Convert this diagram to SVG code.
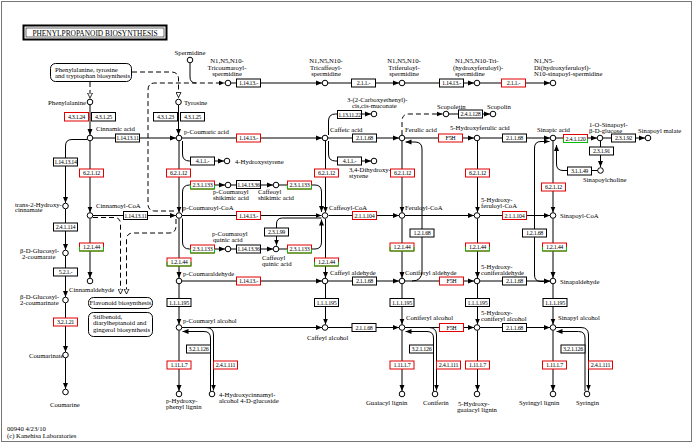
<svg xmlns="http://www.w3.org/2000/svg" width="693" height="444" viewBox="0 0 693 444">
<style>
.ln{fill:none;stroke:#000;stroke-width:1}
.dl{fill:none;stroke:#000;stroke-width:1;stroke-dasharray:5,3}
.bx{fill:#fff;stroke:#000;stroke-width:1}
.rb{fill:#fff;stroke:#e00000;stroke-width:1}
.gb{fill:none;stroke:#00c000;stroke-width:1}
.mp{fill:#fff;stroke:#000;stroke-width:1}
circle{fill:#fff;stroke:#000;stroke-width:1}
text{font-family:"Liberation Serif","Times New Roman",serif;font-size:6.7px;fill:#000}
.bt{font-size:6px;letter-spacing:-0.3px;text-anchor:middle}
.m{text-anchor:middle}
.e{text-anchor:end}
</style>
<defs>
<marker id="a" viewBox="0 0 6 6" refX="6" refY="3" markerWidth="6" markerHeight="6" markerUnits="userSpaceOnUse" orient="auto-start-reverse"><path d="M0,0.5 L6,3 L0,5.5z" fill="#000"/></marker>
<marker id="o" viewBox="0 0 6 6" refX="6" refY="3" markerWidth="6" markerHeight="6" markerUnits="userSpaceOnUse" orient="auto"><path d="M0.5,0.5 L5.5,3 L0.5,5.5z" fill="#fff" stroke="#000" stroke-width="0.8"/></marker>
</defs>
<rect x="1.5" y="1.5" width="690" height="440" fill="#fff" stroke="#777" stroke-width="1"/>
<g id="title"><rect x="23.5" y="25.5" width="143" height="14" fill="#fff" stroke="#000" stroke-width="2"/><rect x="26" y="28" width="138" height="9" fill="none" stroke="#000" stroke-width="0.6"/><text x="95" y="35.5" class="m" style="font-size:7.4px">PHENYLPROPANOID  BIOSYNTHESIS</text></g>

<g id="connectors">
<path class="dl" d="M132 72 H171 Q178.5 72 178.5 79 V98" marker-end="url(#o)"/>
<path class="dl" d="M90 82 V98.5" marker-end="url(#o)"/>
<path class="dl" d="M174 211 H155 Q148 211 148 204 V90 Q148 83 155 83 H224.5" marker-end="url(#a)"/>
<path class="ln" d="M190 63 V77 Q190 83 196 83"/>
<path class="dl" d="M93 217.5 H114 Q120.5 217.5 120.5 224 V294.5" marker-end="url(#o)"/>
<path class="dl" d="M176 219 V226 Q176 233 169 233 H133 Q126.5 233 126.5 240 V294.5" marker-end="url(#o)"/>
<path class="dl" d="M402 135 V121 Q402 114 409 114 H442.5" marker-end="url(#a)"/>
<path class="ln" d="M231 83 H322" marker-end="url(#a)"/>
<path class="ln" d="M328 83 H399" marker-end="url(#a)"/>
<path class="ln" d="M405 83 H474" marker-end="url(#a)"/>
<path class="ln" d="M480 83 H550" marker-end="url(#a)"/>
<path class="ln" d="M90 105 V135" marker-end="url(#a)"/>
<path class="ln" d="M178.5 105 V135" marker-end="url(#a)"/>
<path class="ln" d="M93 138 H176" marker-end="url(#a)"/>
<path class="ln" d="M182 138 H322" marker-end="url(#a)"/>
<path class="ln" d="M328 138 H399" marker-end="url(#a)"/>
<path class="ln" d="M405 138 H474" marker-end="url(#a)"/>
<path class="ln" d="M480 138 H550" marker-end="url(#a)"/>
<path class="ln" d="M556 138 H597" marker-end="url(#a)"/>
<path class="ln" d="M603 138 H645" marker-end="url(#a)"/>
<path class="ln" d="M328.5 135 V121 Q328.5 114 335.5 114 H371" marker-end="url(#a)"/>
<path class="ln" d="M449 114 H490" marker-end="url(#a)"/>
<path class="ln" d="M328.5 141 V154 Q328.5 161 335.5 161 H371" marker-end="url(#a)"/>
<path class="ln" d="M182.5 141 V154 Q182.5 161 189.5 161 H224" marker-end="url(#a)"/>
<path class="ln" d="M600.5 141 V167" marker-end="url(#a)"/>
<path class="ln" d="M598 170.5 H563 Q556.5 170.5 556.5 164 V145" marker-end="url(#a)"/>
<path class="ln" d="M87 139.5 H72 Q65.5 139.5 65.5 146 V203" marker-end="url(#a)"/>
<path class="ln" d="M65.5 209 V250" marker-end="url(#a)"/>
<path class="ln" d="M65.5 256 V297" marker-end="url(#a)"/>
<path class="ln" d="M65.5 303 V352" marker-end="url(#a)"/>
<path class="ln" d="M65.5 358 V389" marker-end="url(#a)"/>
<path class="ln" d="M90 141 V212.5" marker-end="url(#a)"/>
<path class="ln" d="M90 218.5 V278" marker-end="url(#a)"/>
<path class="ln" d="M93 215.5 H176" marker-end="url(#a)"/>
<path class="ln" d="M179 141 V212.5" marker-end="url(#a)"/>
<path class="ln" d="M179 218.5 V278" marker-end="url(#a)"/>
<path class="ln" d="M179 284 V324.5" marker-end="url(#a)"/>
<path class="ln" d="M179 330.5 V391" marker-end="url(#a)"/>
<path class="ln" d="M182.5 212.5 V192 Q182.5 185 189.5 185 H225" marker-end="url(#a)"/>
<path class="ln" d="M231 185 H273" marker-end="url(#a)"/>
<path class="ln" d="M279 185 H315 Q321.5 185 321.5 192 V212" marker-end="url(#a)"/>
<path class="ln" d="M182.5 218.5 V242 Q182.5 249 189.5 249 H225" marker-end="url(#a)"/>
<path class="ln" d="M231 249 H273" marker-end="url(#a)"/>
<path class="ln" d="M279 249 H315 Q321.5 249 321.5 242 V219.5" marker-end="url(#a)"/>
<path class="ln" d="M321.5 218 H282.5 Q276.5 218 276.5 224 V245.5" marker-end="url(#a)"/>
<path class="ln" d="M182 215.5 H321.5" marker-end="url(#a)"/>
<path class="ln" d="M325.5 141 V212.5" marker-end="url(#a)"/>
<path class="ln" d="M325.5 219 V278" marker-end="url(#a)"/>
<path class="ln" d="M325.5 284 V324.5" marker-end="url(#a)"/>
<path class="ln" d="M328.5 215.5 H399" marker-end="url(#a)"/>
<path class="ln" d="M405 215.5 H474" marker-end="url(#a)"/>
<path class="ln" d="M480 215.5 H550" marker-end="url(#a)"/>
<path class="ln" d="M402 141 V212.5" marker-end="url(#a)"/>
<path class="ln" d="M402 218.5 V278" marker-end="url(#a)"/>
<path class="ln" d="M402 284 V324.5" marker-end="url(#a)"/>
<path class="ln" d="M402 330.5 V391" marker-end="url(#a)"/>
<path class="ln" d="M477.5 141 V212.5" marker-end="url(#a)"/>
<path class="ln" d="M477.5 218.5 V278" marker-end="url(#a)"/>
<path class="ln" d="M477.5 284 V324.5" marker-end="url(#a)"/>
<path class="ln" d="M477.5 330.5 V391" marker-end="url(#a)"/>
<path class="ln" d="M553 141 V212.5" marker-end="url(#a)"/>
<path class="ln" d="M553 218.5 V278" marker-end="url(#a)"/>
<path class="ln" d="M553 284 V324.5" marker-end="url(#a)"/>
<path class="ln" d="M553 330.5 V391" marker-end="url(#a)"/>
<path class="ln" d="M412 281 Q422 281 422 271 V149 Q422 142 415 142 H405.5" marker-end="url(#a)"/>
<path class="ln" d="M549.5 141.5 H541 Q534.5 141.5 534.5 148 V275 Q534.5 281.5 541 281.5 H549.5" marker-start="url(#a)" marker-end="url(#a)"/>
<path class="ln" d="M182 281 H322" marker-end="url(#a)"/>
<path class="ln" d="M328 281 H399" marker-end="url(#a)"/>
<path class="ln" d="M405 281 H474" marker-end="url(#a)"/>
<path class="ln" d="M480 281 H550" marker-end="url(#a)"/>
<path class="ln" d="M182 327.5 H322" marker-end="url(#a)"/>
<path class="ln" d="M328 327.5 H399" marker-end="url(#a)"/>
<path class="ln" d="M405 327.5 H474" marker-end="url(#a)"/>
<path class="ln" d="M480 327.5 H550" marker-end="url(#a)"/>
<path class="ln" d="M206 327.5 Q213.5 327.5 213.5 335 V390.5" marker-end="url(#a)"/>
<path class="ln" d="M210.5 391 V338 Q210.5 331.5 204 331.5 H182.5" marker-end="url(#a)"/>
<path class="ln" d="M429 327.5 Q436.5 327.5 436.5 335 V390.5" marker-end="url(#a)"/>
<path class="ln" d="M433.5 391 V338 Q433.5 331.5 427 331.5 H405.5" marker-end="url(#a)"/>
<path class="ln" d="M556 327.5 H581 Q588.5 327.5 588.5 335 V390.5" marker-end="url(#a)"/>
<path class="ln" d="M585 391 V338 Q585 331.5 578.5 331.5 H556.5" marker-end="url(#a)"/>
</g>

<g id="maps">
<g id="map-phe"><rect class="mp" x="50.5" y="63.5" width="81" height="18" rx="5"/><text x="55" y="71.5">Phenylalanine, tyrosine</text><text x="55" y="78">and tryptophan biosynthesis</text></g>
<g id="map-flav"><rect class="mp" x="88.5" y="297.5" width="64" height="11" rx="5"/><text x="120.5" y="305.3" class="m">Flavonoid biosynthesis</text></g>
<g id="map-stil"><rect class="mp" x="88.5" y="312.5" width="64" height="24" rx="5"/><text x="93" y="318.5">Stilbenoid,</text><text x="93" y="325">diarylheptanoid and</text><text x="93" y="331.5">gingerol biosynthesis</text></g>
</g>

<g id="enzymes">
<g id="e1"><rect class="bx" x="236.5" y="79" width="24" height="8"/><text class="bt" x="248.5" y="85.2">1.14.13.-</text></g>
<g id="e2"><rect class="bx" x="351.5" y="79" width="24" height="8"/><text class="bt" x="363.5" y="85.2">2.1.1.-</text></g>
<g id="e3"><rect class="bx" x="439.5" y="79" width="24" height="8"/><text class="bt" x="451.5" y="85.2">1.14.13.-</text></g>
<g id="e4"><rect class="rb" x="501.5" y="79" width="24" height="8"/><text class="bt" x="513.5" y="85.2">2.1.1.-</text></g>
<g id="e5"><rect class="rb" x="64.5" y="112.5" width="24" height="8.5"/><text class="bt" x="76.5" y="119">4.3.1.24</text></g>
<g id="e6"><rect class="bx" x="91.5" y="112.5" width="24" height="8.5"/><text class="bt" x="103.5" y="119">4.3.1.25</text></g>
<g id="e7"><rect class="bx" x="153.5" y="112.5" width="24" height="8.5"/><text class="bt" x="165.5" y="119">4.3.1.23</text></g>
<g id="e8"><rect class="bx" x="180.5" y="112.5" width="24" height="8.5"/><text class="bt" x="192.5" y="119">4.3.1.25</text></g>
<g id="e9"><rect class="bx" x="337.5" y="110.5" width="24" height="8"/><text class="bt" x="349.5" y="116.7">1.13.11.22</text></g>
<g id="e10"><rect class="bx" x="458.5" y="110" width="24" height="8"/><text class="bt" x="470.5" y="116.2">2.4.1.128</text></g>
<g id="e11"><rect class="bx" x="115.5" y="134" width="24" height="8"/><text class="bt" x="127.5" y="140.2">1.14.13.11</text></g>
<g id="e12"><rect class="rb" x="236.5" y="134" width="24" height="8"/><text class="bt" x="248.5" y="140.2">1.14.13.-</text></g>
<g id="e13"><rect class="bx" x="352.5" y="134" width="24" height="8"/><text class="bt" x="364.5" y="140.2">2.1.1.68</text></g>
<g id="e14"><rect class="rb" x="438.5" y="134" width="24" height="8"/><text class="bt" x="450.5" y="140.2">F5H</text></g>
<g id="e15"><rect class="bx" x="502.5" y="134" width="24" height="8"/><text class="bt" x="514.5" y="140.2">2.1.1.68</text></g>
<g id="e16"><rect class="rb" x="563.5" y="134.5" width="24" height="8"/><path class="gb" d="M563.5 138.5 V142.5 H587.5 V138.5"/><text class="bt" x="575.5" y="140.7">2.4.1.120</text></g>
<g id="e17"><rect class="bx" x="611.5" y="134" width="24" height="8"/><text class="bt" x="623.5" y="140.2">2.3.1.92</text></g>
<g id="e18"><rect class="bx" x="589.5" y="147" width="24" height="8"/><text class="bt" x="601.5" y="153.2">2.3.1.91</text></g>
<g id="e19"><rect class="bx" x="567.5" y="167" width="24" height="8"/><text class="bt" x="579.5" y="173.2">3.1.1.49</text></g>
<g id="e20"><rect class="bx" x="53.5" y="158" width="24" height="8"/><text class="bt" x="65.5" y="164.2">1.14.13.14</text></g>
<g id="e21"><rect class="bx" x="53.5" y="223" width="24" height="8"/><text class="bt" x="65.5" y="229.2">2.4.1.114</text></g>
<g id="e22"><rect class="bx" x="53.5" y="268" width="24" height="8"/><text class="bt" x="65.5" y="274.2">5.2.1.-</text></g>
<g id="e23"><rect class="rb" x="53.5" y="318" width="24" height="8"/><text class="bt" x="65.5" y="324.2">3.2.1.21</text></g>
<g id="e24"><rect class="bx" x="190.5" y="157" width="24" height="8"/><text class="bt" x="202.5" y="163.2">4.1.1.-</text></g>
<g id="e25"><rect class="bx" x="337.5" y="157" width="24" height="8"/><text class="bt" x="349.5" y="163.2">4.1.1.-</text></g>
<g id="e26"><rect class="rb" x="79.5" y="169" width="24" height="8"/><text class="bt" x="91.5" y="175.2">6.2.1.12</text></g>
<g id="e27"><rect class="rb" x="166.5" y="169" width="24" height="8"/><text class="bt" x="178.5" y="175.2">6.2.1.12</text></g>
<g id="e28"><rect class="rb" x="314.5" y="169" width="24" height="8"/><text class="bt" x="326.5" y="175.2">6.2.1.12</text></g>
<g id="e29"><rect class="rb" x="390.5" y="169" width="24" height="8"/><text class="bt" x="402.5" y="175.2">6.2.1.12</text></g>
<g id="e30"><rect class="rb" x="465.5" y="169" width="24" height="8"/><text class="bt" x="477.5" y="175.2">6.2.1.12</text></g>
<g id="e31"><rect class="rb" x="541.5" y="183" width="24" height="8"/><text class="bt" x="553.5" y="189.2">6.2.1.12</text></g>
<g id="e32"><rect class="rb" x="190.5" y="181" width="24" height="8"/><path class="gb" d="M190.5 185 V189 H214.5 V185"/><text class="bt" x="202.5" y="187.2">2.3.1.133</text></g>
<g id="e33"><rect class="rb" x="287.5" y="181" width="24" height="8"/><path class="gb" d="M287.5 185 V189 H311.5 V185"/><text class="bt" x="299.5" y="187.2">2.3.1.133</text></g>
<g id="e34"><rect class="rb" x="190.5" y="245" width="24" height="8"/><path class="gb" d="M190.5 249 V253 H214.5 V249"/><text class="bt" x="202.5" y="251.2">2.3.1.133</text></g>
<g id="e35"><rect class="rb" x="287.5" y="245" width="24" height="8"/><path class="gb" d="M287.5 249 V253 H311.5 V249"/><text class="bt" x="299.5" y="251.2">2.3.1.133</text></g>
<g id="e36"><rect class="bx" x="236.5" y="180.5" width="24" height="8"/><text class="bt" x="248.5" y="186.7">1.14.13.36</text></g>
<g id="e37"><rect class="bx" x="236.5" y="245" width="24" height="8"/><text class="bt" x="248.5" y="251.2">1.14.13.36</text></g>
<g id="e38"><rect class="bx" x="264.5" y="228" width="24" height="8"/><text class="bt" x="276.5" y="234.2">2.3.1.99</text></g>
<g id="e39"><rect class="bx" x="123.5" y="211.5" width="24" height="8"/><text class="bt" x="135.5" y="217.7">1.14.13.11</text></g>
<g id="e40"><rect class="rb" x="236.5" y="211.5" width="24" height="8"/><text class="bt" x="248.5" y="217.7">1.14.13.-</text></g>
<g id="e41"><rect class="rb" x="352.5" y="211.5" width="24" height="8"/><text class="bt" x="364.5" y="217.7">2.1.1.104</text></g>
<g id="e42"><rect class="rb" x="502.5" y="211.5" width="24" height="8"/><text class="bt" x="514.5" y="217.7">2.1.1.104</text></g>
<g id="e43"><rect class="bx" x="410" y="229" width="24" height="8"/><text class="bt" x="422" y="235.2">1.2.1.68</text></g>
<g id="e44"><rect class="bx" x="522.5" y="229" width="24" height="8"/><text class="bt" x="534.5" y="235.2">1.2.1.68</text></g>
<g id="e45"><rect class="rb" x="79.5" y="243" width="24" height="8"/><path class="gb" d="M79.5 247 V251 H103.5 V247"/><text class="bt" x="91.5" y="249.2">1.2.1.44</text></g>
<g id="e46"><rect class="rb" x="167" y="258" width="24" height="8"/><path class="gb" d="M167 262 V266 H191 V262"/><text class="bt" x="179" y="264.2">1.2.1.44</text></g>
<g id="e47"><rect class="rb" x="314.5" y="258" width="24" height="8"/><path class="gb" d="M314.5 262 V266 H338.5 V262"/><text class="bt" x="326.5" y="264.2">1.2.1.44</text></g>
<g id="e48"><rect class="rb" x="390" y="243" width="24" height="8"/><path class="gb" d="M390 247 V251 H414 V247"/><text class="bt" x="402" y="249.2">1.2.1.44</text></g>
<g id="e49"><rect class="rb" x="465.5" y="243" width="24" height="8"/><path class="gb" d="M465.5 247 V251 H489.5 V247"/><text class="bt" x="477.5" y="249.2">1.2.1.44</text></g>
<g id="e50"><rect class="rb" x="542.5" y="243" width="24" height="8"/><path class="gb" d="M542.5 247 V251 H566.5 V247"/><text class="bt" x="554.5" y="249.2">1.2.1.44</text></g>
<g id="e51"><rect class="rb" x="236.5" y="277" width="24" height="8"/><text class="bt" x="248.5" y="283.2">1.14.13.-</text></g>
<g id="e52"><rect class="bx" x="352.5" y="277" width="24" height="8"/><text class="bt" x="364.5" y="283.2">2.1.1.68</text></g>
<g id="e53"><rect class="rb" x="439.5" y="277" width="24" height="8"/><text class="bt" x="451.5" y="283.2">F5H</text></g>
<g id="e54"><rect class="bx" x="502.5" y="277" width="24" height="8"/><text class="bt" x="514.5" y="283.2">2.1.1.68</text></g>
<g id="e55"><rect class="bx" x="167" y="298.5" width="24" height="8"/><text class="bt" x="179" y="304.7">1.1.1.195</text></g>
<g id="e56"><rect class="bx" x="314.5" y="298.5" width="24" height="8"/><text class="bt" x="326.5" y="304.7">1.1.1.195</text></g>
<g id="e57"><rect class="bx" x="390" y="298.5" width="24" height="8"/><text class="bt" x="402" y="304.7">1.1.1.195</text></g>
<g id="e58"><rect class="bx" x="465.5" y="298.5" width="24" height="8"/><text class="bt" x="477.5" y="304.7">1.1.1.195</text></g>
<g id="e59"><rect class="bx" x="543" y="298.5" width="24" height="8"/><text class="bt" x="555" y="304.7">1.1.1.195</text></g>
<g id="e60"><rect class="bx" x="352" y="323.5" width="24" height="8"/><text class="bt" x="364" y="329.7">2.1.1.68</text></g>
<g id="e61"><rect class="rb" x="439.5" y="323.5" width="24" height="8"/><text class="bt" x="451.5" y="329.7">F5H</text></g>
<g id="e62"><rect class="bx" x="502.5" y="323.5" width="24" height="8"/><text class="bt" x="514.5" y="329.7">2.1.1.68</text></g>
<g id="e63"><rect class="bx" x="186.5" y="345" width="24" height="8"/><text class="bt" x="198.5" y="351.2">3.2.1.126</text></g>
<g id="e64"><rect class="bx" x="409.5" y="345" width="24" height="8"/><text class="bt" x="421.5" y="351.2">3.2.1.126</text></g>
<g id="e65"><rect class="bx" x="561" y="345" width="24" height="8"/><text class="bt" x="573" y="351.2">3.2.1.126</text></g>
<g id="e66"><rect class="rb" x="213.5" y="361" width="24" height="8"/><text class="bt" x="225.5" y="367.2">2.4.1.111</text></g>
<g id="e67"><rect class="rb" x="436.5" y="361" width="24" height="8"/><text class="bt" x="448.5" y="367.2">2.4.1.111</text></g>
<g id="e68"><rect class="rb" x="588.5" y="361" width="24" height="8"/><text class="bt" x="600.5" y="367.2">2.4.1.111</text></g>
<g id="e69"><rect class="rb" x="167" y="361" width="24" height="8"/><text class="bt" x="179" y="367.2">1.11.1.7</text></g>
<g id="e70"><rect class="rb" x="390" y="361" width="24" height="8"/><text class="bt" x="402" y="367.2">1.11.1.7</text></g>
<g id="e71"><rect class="rb" x="465.5" y="361" width="24" height="8"/><text class="bt" x="477.5" y="367.2">1.11.1.7</text></g>
<g id="e72"><rect class="rb" x="542.5" y="361" width="24" height="8"/><text class="bt" x="554.5" y="367.2">1.11.1.7</text></g>
</g>

<g id="compounds">
<g id="c-spermidine"><circle cx="190" cy="60" r="2.8"/><text x="190" y="54.5" class="m">Spermidine</text></g>
<g id="c-tricoumaroyl"><circle cx="228" cy="83" r="2.8"/><text x="227" y="63.3" class="m">N1,N5,N10-</text><text x="227" y="69.5" class="m">Tricoumaroyl-</text><text x="227" y="75.7" class="m">spermidine</text></g>
<g id="c-tricaffeoyl"><circle cx="325" cy="83" r="2.8"/><text x="326" y="63.3" class="m">N1,N5,N10-</text><text x="326" y="69.5" class="m">Tricaffeoyl-</text><text x="326" y="75.7" class="m">spermidine</text></g>
<g id="c-triferuloyl"><circle cx="402" cy="83" r="2.8"/><text x="404" y="63.3" class="m">N1,N5,N10-</text><text x="404" y="69.5" class="m">Triferuloyl-</text><text x="404" y="75.7" class="m">spermidine</text></g>
<g id="c-trihydroxyferuloyl"><circle cx="477" cy="83" r="2.8"/><text x="455" y="63.3">N1,N5,N10-Tri-</text><text x="453" y="69.5">(hydroxyferuloyl)-</text><text x="455" y="75.7">spermidine</text></g>
<g id="c-disinapoyl"><circle cx="553" cy="83" r="2.8"/><text x="534" y="63.3">N1,N5-</text><text x="534" y="69.5">Di(hydroxyferuloyl)-</text><text x="534" y="75.7">N10-sinapoyl-spermidine</text></g>
<g id="c-phenylalanine"><circle cx="90" cy="102" r="2.8"/><text x="86" y="105" class="e">Phenylalanine</text></g>
<g id="c-tyrosine"><circle cx="178.5" cy="102" r="2.8"/><text x="184" y="105">Tyrosine</text></g>
<g id="c-muconate"><circle cx="374" cy="114" r="2.8"/><text x="347" y="101.5">3-(2-Carboxyethenyl)-</text><text x="352" y="107.5">cis,cis-muconate</text></g>
<g id="c-scopoletin"><circle cx="446" cy="114" r="2.8"/><text x="437" y="108.5">Scopoletin</text></g>
<g id="c-scopolin"><circle cx="493" cy="114" r="2.8"/><text x="487" y="108.5">Scopolin</text></g>
<g id="c-cinnamic"><circle cx="90" cy="138" r="2.8"/><text x="96" y="130.5">Cinnamic acid</text></g>
<g id="c-pcoumaric"><circle cx="179" cy="138" r="2.8"/><text x="184" y="134">p-Coumaric acid</text></g>
<g id="c-caffeic"><circle cx="325" cy="138" r="2.8"/><text x="330" y="131.5">Caffeic acid</text></g>
<g id="c-ferulic"><circle cx="402" cy="138" r="2.8"/><text x="405" y="131.5">Ferulic acid</text></g>
<g id="c-hydroxyferulic"><circle cx="477" cy="138" r="2.8"/><text x="450" y="129.5">5-Hydroxyferulic acid</text></g>
<g id="c-sinapic"><circle cx="553" cy="138" r="2.8"/><text x="537" y="131.5">Sinapic acid</text></g>
<g id="c-sinapoylglucose"><circle cx="600" cy="138" r="2.8"/><text x="589" y="126.5">1-O-Sinapoyl-</text><text x="589" y="132.5">β-D-glucose</text></g>
<g id="c-sinapoylmalate"><circle cx="648" cy="138" r="2.8"/><text x="638" y="132.5">Sinapoyl malate</text></g>
<g id="c-hydroxystyrene"><circle cx="227" cy="161" r="2.8"/><text x="235" y="163.5">4-Hydroxystyrene</text></g>
<g id="c-dihydroxystyrene"><circle cx="374" cy="161" r="2.8"/><text x="349" y="171.5">3,4-Dihydroxy-</text><text x="349" y="178">styrene</text></g>
<g id="c-sinapoylcholine"><circle cx="600.5" cy="170.5" r="2.8"/><text x="583" y="181.5">Sinapoylcholine</text></g>
<g id="c-pcoumaroylshikimic"><circle cx="228" cy="185" r="2.8"/><text x="213" y="194">p-Coumaroyl</text><text x="213" y="200">shikimic acid</text></g>
<g id="c-caffeoylshikimic"><circle cx="276" cy="185" r="2.8"/><text x="258" y="194">Caffeoyl</text><text x="258" y="200">shikimic acid</text></g>
<g id="c-hydroxycinnamate"><circle cx="65.5" cy="206" r="2.8"/><text x="15" y="206.5">trans-2-Hydroxy-</text><text x="15" y="212">cinnamate</text></g>
<g id="c-cinnamoylcoa"><circle cx="90" cy="215.5" r="2.8"/><text x="96" y="207.5">Cinnamoyl-CoA</text></g>
<g id="c-pcoumaroylcoa"><circle cx="179" cy="215.5" r="2.8"/><text x="183" y="209.5">p-Coumaroyl-CoA</text></g>
<g id="c-caffeoylcoa"><circle cx="325" cy="215.5" r="2.8"/><text x="329" y="209.5">Caffeoyl-CoA</text></g>
<g id="c-feruloylcoa"><circle cx="402" cy="215.5" r="2.8"/><text x="405" y="209.5">Feruloyl-CoA</text></g>
<g id="c-hydroxyferuloylcoa"><circle cx="477" cy="215.5" r="2.8"/><text x="481" y="201.5">5-Hydroxy-</text><text x="481" y="207.5">feruloyl-CoA</text></g>
<g id="c-sinapoylcoa"><circle cx="553" cy="215.5" r="2.8"/><text x="560" y="218">Sinapoyl-CoA</text></g>
<g id="c-pcoumaroylquinic"><circle cx="228" cy="249" r="2.8"/><text x="212" y="235.5">p-Coumaroyl</text><text x="213" y="241.5">quinic acid</text></g>
<g id="c-caffeoylquinic"><circle cx="276" cy="249" r="2.8"/><text x="262" y="259.5">Caffeoyl</text><text x="262" y="265.5">quinic acid</text></g>
<g id="c-glucosylcoumarate"><circle cx="65.5" cy="253" r="2.8"/><text x="20" y="253">β-D-Glucosyl-</text><text x="22" y="258.8">2-coumarate</text></g>
<g id="c-cinnamaldehyde"><circle cx="90" cy="281" r="2.8"/><text x="69" y="291.5">Cinnamaldehyde</text></g>
<g id="c-pcoumaraldehyde"><circle cx="179" cy="281" r="2.8"/><text x="183" y="275.5">p-Coumaraldehyde</text></g>
<g id="c-caffeylaldehyde"><circle cx="325" cy="281" r="2.8"/><text x="330" y="274.5">Caffeyl aldehyde</text></g>
<g id="c-coniferylaldehyde"><circle cx="402" cy="281" r="2.8"/><text x="405" y="274.5">Coniferyl aldehyde</text></g>
<g id="c-hydroxyconiferaldehyde"><circle cx="477" cy="281" r="2.8"/><text x="481" y="268.5">5-Hydroxy-</text><text x="481" y="274.5">coniferaldehyde</text></g>
<g id="c-sinapaldehyde"><circle cx="553" cy="281" r="2.8"/><text x="560" y="283.5">Sinapaldehyde</text></g>
<g id="c-glucosylcoumarinate"><circle cx="65.5" cy="300" r="2.8"/><text x="20" y="299">β-D-Glucosyl-</text><text x="20" y="305">2-coumarinate</text></g>
<g id="c-pcoumarylalcohol"><circle cx="179" cy="327.5" r="2.8"/><text x="183" y="322.5">p-Coumaryl alcohol</text></g>
<g id="c-caffeylalcohol"><circle cx="325" cy="327.5" r="2.8"/><text x="307" y="339.5">Caffeyl alcohol</text></g>
<g id="c-coniferylalcohol"><circle cx="402" cy="327.5" r="2.8"/><text x="406" y="319.5">Coniferyl alcohol</text></g>
<g id="c-hydroxyconiferylalcohol"><circle cx="477" cy="327.5" r="2.8"/><text x="481" y="315">5-Hydroxy-</text><text x="481" y="321">coniferyl alcohol</text></g>
<g id="c-sinapylalcohol"><circle cx="553" cy="327.5" r="2.8"/><text x="558" y="319.5">Sinapyl alcohol</text></g>
<g id="c-coumarinate"><circle cx="65.5" cy="355" r="2.8"/><text x="29" y="357.5">Coumarinate</text></g>
<g id="c-coumarine"><circle cx="65.5" cy="392" r="2.8"/><text x="50" y="406.5">Coumarine</text></g>
<g id="c-hphlignin"><circle cx="179" cy="394" r="2.8"/><text x="166" y="402.5">p-Hydroxy-</text><text x="166" y="409">phenyl lignin</text></g>
<g id="c-glucoside"><circle cx="212" cy="394" r="2.8"/><text x="219" y="396.5">4-Hydroxycinnamyl-</text><text x="219" y="402.5">alcohol 4-D-glucoside</text></g>
<g id="c-guaiacyllignin"><circle cx="402" cy="394" r="2.8"/><text x="366" y="405">Guaiacyl lignin</text></g>
<g id="c-coniferin"><circle cx="435" cy="394" r="2.8"/><text x="423" y="405">Coniferin</text></g>
<g id="c-hydroxyguaiacyllignin"><circle cx="477" cy="394" r="2.8"/><text x="458" y="405.5">5-Hydroxy-</text><text x="457" y="411.5">guaiacyl lignin</text></g>
<g id="c-syringyllignin"><circle cx="553" cy="394" r="2.8"/><text x="519" y="404.5">Syringyl lignin</text></g>
<g id="c-syringin"><circle cx="587" cy="394" r="2.8"/><text x="576" y="404.5">Syringin</text></g>
</g>
<g id="footer"><text x="7" y="430.5">00940 4/23/10</text><text x="7" y="437.5">(c) Kanehisa Laboratories</text></g>
</svg>
